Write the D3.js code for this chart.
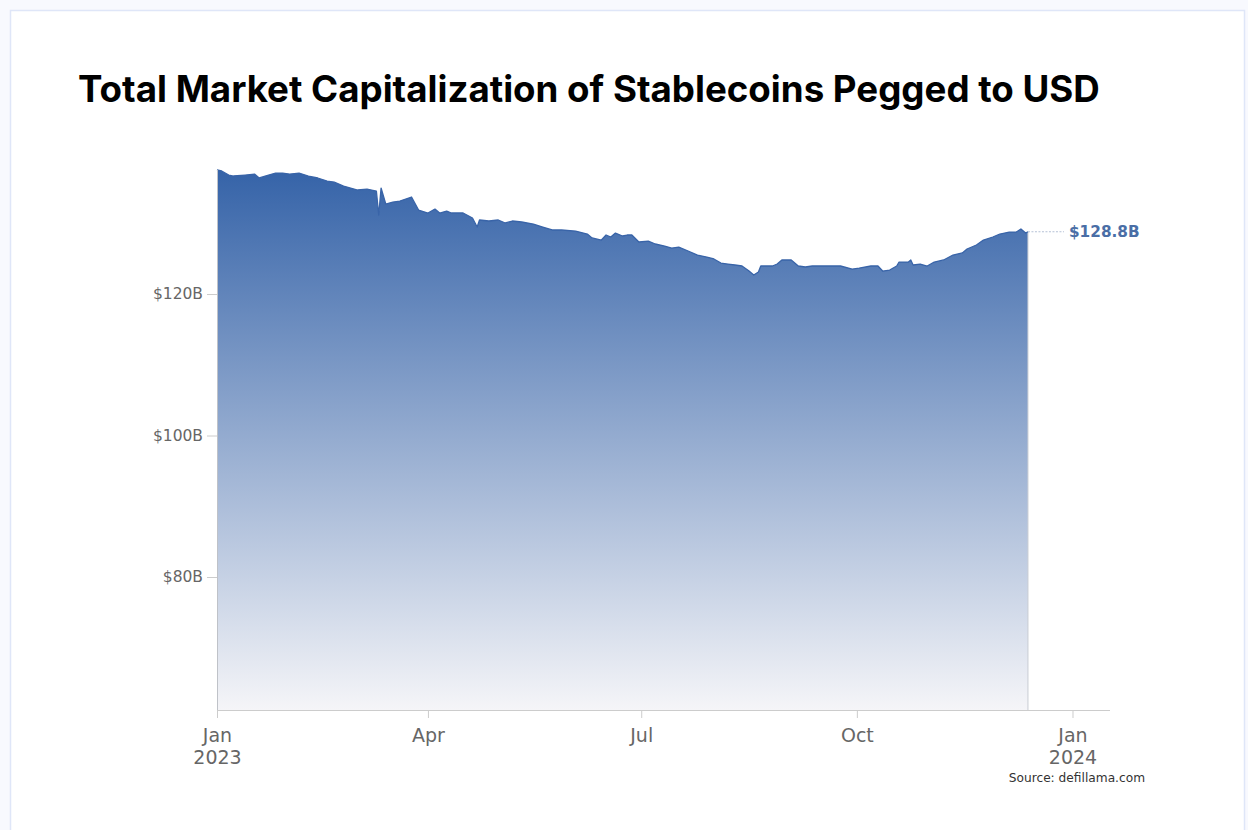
<!DOCTYPE html>
<html>
<head>
<meta charset="utf-8">
<script src="https://cdn.jsdelivr.net/npm/d3@7/dist/d3.min.js"></script>
<style>
  html, body { margin: 0; padding: 0; background: #f8f9fe; }
  svg { display: block; }
</style>
</head>
<body>
<svg id="chart" width="1248" height="830"></svg>
<script>
// Daily-ish readings of total USD-pegged stablecoin market cap (billions of USD)
const dates = [
  "2023-01-01","2023-01-03","2023-01-06","2023-01-08","2023-01-13","2023-01-17","2023-01-19",
  "2023-01-23","2023-01-26","2023-01-29","2023-02-01","2023-02-05","2023-02-09","2023-02-13",
  "2023-02-17","2023-02-20","2023-02-24","2023-02-27","2023-03-02","2023-03-06","2023-03-10",
  "2023-03-11","2023-03-12","2023-03-14","2023-03-17","2023-03-20","2023-03-25","2023-03-28",
  "2023-04-01","2023-04-04","2023-04-06","2023-04-09","2023-04-11","2023-04-16","2023-04-20",
  "2023-04-22","2023-04-23","2023-04-27","2023-05-01","2023-05-04","2023-05-07","2023-05-11",
  "2023-05-16","2023-05-20","2023-05-24","2023-05-28","2023-06-03","2023-06-08","2023-06-10",
  "2023-06-14","2023-06-16","2023-06-18","2023-06-20","2023-06-23","2023-06-25","2023-06-27",
  "2023-06-30","2023-07-04","2023-07-07","2023-07-11","2023-07-14","2023-07-17","2023-07-21",
  "2023-07-25","2023-07-29","2023-08-01","2023-08-04","2023-08-07","2023-08-10","2023-08-13",
  "2023-08-16","2023-08-18","2023-08-20","2023-08-21","2023-08-26","2023-08-28","2023-08-30",
  "2023-09-03","2023-09-06","2023-09-09","2023-09-12","2023-09-17","2023-09-22","2023-09-24",
  "2023-09-29","2023-10-02","2023-10-07","2023-10-10","2023-10-12","2023-10-15","2023-10-18",
  "2023-10-19","2023-10-23","2023-10-24","2023-10-25","2023-10-28","2023-10-31","2023-11-03",
  "2023-11-07","2023-11-11","2023-11-15","2023-11-17","2023-11-21","2023-11-24","2023-11-28",
  "2023-12-01","2023-12-05","2023-12-08","2023-12-10","2023-12-12","2023-12-13"
];
const marketCap = [
  137.53,137.39,136.82,136.68,136.82,136.96,136.40,
  136.82,137.10,137.10,136.96,137.10,136.68,136.40,
  135.97,135.83,135.26,134.98,134.70,134.84,134.56,
  131.17,134.98,132.72,133.00,133.14,133.71,131.87,
  131.45,132.01,131.45,131.73,131.45,131.45,130.74,
  129.47,130.46,130.32,130.46,130.04,130.32,130.18,
  129.89,129.47,129.05,129.05,128.90,128.48,127.92,
  127.63,128.34,128.06,128.62,128.20,128.34,128.34,
  127.35,127.49,127.07,126.78,126.50,126.64,126.08,
  125.51,125.23,124.95,124.38,124.24,124.10,123.96,
  123.25,122.69,123.11,123.96,123.96,124.24,124.81,
  124.81,123.96,123.82,123.96,123.96,123.96,123.96,
  123.53,123.67,123.96,123.96,123.25,123.39,123.96,
  124.52,124.52,124.81,124.10,124.24,123.96,124.52,
  124.81,125.51,125.80,126.36,126.93,127.63,128.06,
  128.48,128.76,128.76,129.19,128.62,128.80
];

// Axis settings
const xDomain = ["2023-01-01", "2024-01-17"];
const yDomain = [61.2, 137.53];
const yTicks = [80, 100, 120];
const xTicks = ["2023-01-01", "2023-04-01", "2023-07-01", "2023-10-01", "2024-01-01"];
const titleText = "Total Market Capitalization of Stablecoins Pegged to USD";
const sourceText = "Source: defillama.com";

const parse = d3.utcParse("%Y-%m-%d");
const data = dates.map((d, i) => ({ date: parse(d), value: marketCap[i] }));

const svg = d3.select("#chart");

// Card
svg.append("rect")
  .attr("x", 10.5).attr("y", 10.5)
  .attr("width", 1234).attr("height", 840)
  .attr("fill", "#ffffff")
  .attr("stroke", "#dfe6f8").attr("stroke-width", 1.5);

// Title, fitted to its width
const title = svg.append("text")
  .attr("x", 78).attr("y", 102)
  .attr("font-family", "Inter, 'Open Sans', sans-serif")
  .attr("font-weight", 700)
  .attr("font-size", 36)
  .attr("fill", "#000")
  .text(titleText);
const tw = title.node().getComputedTextLength();
title.attr("font-size", 36 * 1022 / tw);

const x = d3.scaleUtc().domain(xDomain.map(parse)).range([217, 1110]);
const y = d3.scaleLinear().domain(yDomain).range([710, 170]);

// Gradient fill
const defs = svg.append("defs");
const grad = defs.append("linearGradient")
  .attr("id", "capFill")
  .attr("gradientUnits", "userSpaceOnUse")
  .attr("x1", 0).attr("y1", y(yDomain[1]))
  .attr("x2", 0).attr("y2", y(yDomain[0]));
grad.append("stop").attr("offset", 0).attr("stop-color", "#3563a8");
grad.append("stop").attr("offset", 1).attr("stop-color", "#f5f5f8");

const area = d3.area()
  .x(d => x(d.date))
  .y0(y(yDomain[0]))
  .y1(d => y(d.value));

svg.append("path")
  .datum(data)
  .attr("d", area)
  .attr("fill", "url(#capFill)");

// Thin edge at the right end of the area
const first = data[0], last = data[data.length - 1];
svg.append("line")
  .attr("x1", x(last.date)).attr("x2", x(last.date))
  .attr("y1", y(last.value)).attr("y2", y(yDomain[0]))
  .attr("stroke", "#c9ccd3").attr("stroke-width", 1);

const line = d3.line().x(d => x(d.date)).y(d => y(d.value));
svg.append("path")
  .datum(data)
  .attr("d", line)
  .attr("fill", "none")
  .attr("stroke", "#3964a8")
  .attr("stroke-width", 1.3)
  .attr("stroke-linejoin", "round");

// Y axis
const yAxis = svg.append("g")
  .attr("transform", `translate(${x(first.date)},0)`)
  .call(d3.axisLeft(y).tickValues(yTicks).tickSize(10).tickPadding(4)
    .tickFormat(d => `$${d}B`));
yAxis.select(".domain")
  .attr("d", `M0.5,${y(first.value)}V${y(yDomain[0])}`)
  .attr("stroke", "#bfc2c8");
yAxis.selectAll(".tick line").attr("stroke", "#cccccc");
yAxis.selectAll(".tick text")
  .attr("font-family", "'DejaVu Sans', sans-serif")
  .attr("font-size", 15.5)
  .attr("fill", "#666666");

// X axis
const monthFmt = d3.utcFormat("%b");
const xAxis = svg.append("g")
  .attr("transform", `translate(0,${y(yDomain[0])})`)
  .call(d3.axisBottom(x).tickValues(xTicks.map(parse)).tickSize(8).tickPadding(11)
    .tickFormat(monthFmt));
xAxis.select(".domain").attr("stroke", "#cccccc").attr("d", `M${x(first.date)},0.5H1110`);
xAxis.selectAll(".tick line").attr("stroke", "#cccccc");
xAxis.selectAll(".tick text")
  .attr("font-family", "'DejaVu Sans', sans-serif")
  .attr("font-size", 19)
  .attr("fill", "#666666")
  .each(function(d) {
    const t = d3.select(this);
    if (d.getUTCMonth() === 0) {
      t.text(null);
      t.append("tspan").attr("x", 0).attr("dy", "0.71em").text(monthFmt(d));
      t.append("tspan").attr("x", 0).attr("dy", "1.12em").text(d.getUTCFullYear());
      t.attr("dy", null);
    }
  });

// Last value marker
const lx = x(last.date), ly = y(last.value);
svg.append("line")
  .attr("x1", lx).attr("x2", lx + 36)
  .attr("y1", ly).attr("y2", ly)
  .attr("stroke", "#b5c1d6").attr("stroke-width", 1)
  .attr("stroke-dasharray", "2,1.5");
svg.append("text")
  .attr("x", lx + 41).attr("y", ly + 5.5)
  .attr("font-family", "'DejaVu Sans', sans-serif")
  .attr("font-weight", 700)
  .attr("font-size", 15.3)
  .attr("fill", "#4a6ea6")
  .text(`$${last.value.toFixed(1)}B`);

// Source note
svg.append("text")
  .attr("x", 1145).attr("y", 782)
  .attr("text-anchor", "end")
  .attr("font-family", "'DejaVu Sans', sans-serif")
  .attr("font-size", 12.2)
  .attr("fill", "#333333")
  .text(sourceText);
</script>
</body>
</html>
